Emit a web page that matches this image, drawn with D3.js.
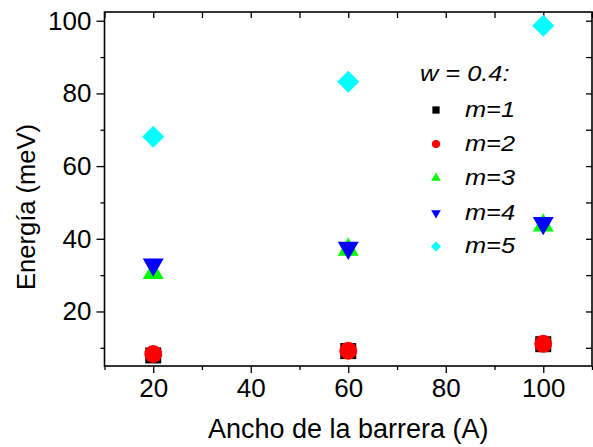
<!DOCTYPE html>
<html><head><meta charset="utf-8">
<script src="https://cdn.jsdelivr.net/npm/d3@7"></script>
<style>body{margin:0;background:#fff}svg{display:block}text{font-family:"Liberation Sans",Arial,sans-serif;fill:#000}</style>
</head><body>
<svg id="c" width="593" height="447"></svg>
<script>
const widths = [20, 60, 100];
const m1 = [7.9, 9.1, 11.0];
const m2 = [8.3, 9.2, 11.1];
const m3 = [30.6, 37.0, 43.7];
const m4 = [32.9, 37.5, 44.3];
const m5 = [68.1, 83.2, 98.6];
const seriesNames = ["m=1", "m=2", "m=3", "m=4", "m=5"];
const xTicks = [20, 40, 60, 80, 100];
const yTicks = [20, 40, 60, 80, 100];
const legendTitle = "w = 0.4:";
const xTitle = "Ancho de la barrera (A)";
const yTitle = "Energía (meV)";

const svg = d3.select("#c");
const L = 104.5, R = 592, T = 12, B = 366;
const x = d3.scaleLinear().domain([10, 110]).range([L, R]);
const y = d3.scaleLinear().domain([5, 102.4]).range([B, T]);

const styles = [
  {sym: d3.symbolSquare, color: "#000000", size: 256, rot: 0, lsize: 52},
  {sym: d3.symbolCircle, color: "#ff0000", size: 254, rot: 0, lsize: 52},
  {sym: d3.symbolTriangle, color: "#00ff00", size: 190, rot: 0, lsize: 40},
  {sym: d3.symbolTriangle, color: "#0000ff", size: 190, rot: 180, lsize: 40},
  {sym: d3.symbolSquare, color: "#00ffff", size: 243, rot: 45, lsize: 50}
];
const data = [m1, m2, m3, m4, m5];

// axes
const minorX = d3.range(10, 111, 10);
const minorY = d3.range(10, 101, 10);
const axisB = d3.axisBottom(x).tickValues(xTicks).tickSize(7).tickPadding(6);
const gB = svg.append("g").attr("transform", `translate(0,${B})`).call(axisB);
const axisL = d3.axisLeft(y).tickValues(yTicks).tickSize(8).tickPadding(5);
const gL = svg.append("g").attr("transform", `translate(${L},0)`).call(axisL);
[gB, gL].forEach(g => {
  g.select(".domain").remove();
  g.selectAll(".tick line").attr("stroke", "#000").attr("stroke-width", 1.3);
  g.selectAll(".tick text").style("font-size", "26px").attr("fill", "#000");
});
// minor ticks
svg.append("g").attr("transform", `translate(0,${B})`)
  .call(d3.axisBottom(x).tickValues(minorX.filter(v => !xTicks.includes(v))).tickSize(4).tickFormat(""))
  .call(g => g.select(".domain").remove())
  .selectAll("line").attr("stroke-width", 1.3);
svg.append("g").attr("transform", `translate(${L},0)`)
  .call(d3.axisLeft(y).tickValues(minorY.filter(v => !yTicks.includes(v))).tickSize(4).tickFormat(""))
  .call(g => g.select(".domain").remove())
  .selectAll("line").attr("stroke-width", 1.3);
// top & right inward ticks
svg.append("g").attr("transform", `translate(0,${T})`)
  .call(d3.axisBottom(x).tickValues(minorX).tickSize(6).tickFormat(""))
  .call(g => g.select(".domain").remove())
  .selectAll("line").attr("stroke-width", 1.3);
svg.append("g").attr("transform", `translate(${R},0)`)
  .call(d3.axisLeft(y).tickValues(minorY).tickSize(6).tickFormat(""))
  .call(g => g.select(".domain").remove())
  .selectAll("line").attr("stroke-width", 1.3);

// frame
svg.append("rect").attr("x", L).attr("y", T).attr("width", R - L).attr("height", B - T)
  .attr("fill", "none").attr("stroke", "#000").attr("stroke-width", 1.6);

// points
const plot = svg.append("g");
data.forEach((vals, i) => {
  const st = styles[i];
  plot.selectAll(null).data(vals).enter().append("path")
    .attr("d", d3.symbol().type(st.sym).size(st.size))
    .attr("transform", (d, j) => `translate(${x(widths[j])},${y(d)}) rotate(${st.rot})`)
    .attr("fill", st.color);
});

// legend
svg.append("text").attr("x", 420).attr("y", 81.5)
  .attr("transform", "translate(420,0) scale(1.18,1) translate(-420,0)")
  .style("font-size", "21.5px").style("font-style", "italic").text(legendTitle);
const ly = [110, 144, 178, 213, 246.5];
seriesNames.forEach((name, i) => {
  const st = styles[i];
  svg.append("path").attr("d", d3.symbol().type(st.sym).size(st.lsize))
    .attr("transform", `translate(436,${ly[i]}) rotate(${st.rot})`).attr("fill", st.color);
  svg.append("text").attr("x", 465).attr("y", ly[i] + 7)
    .attr("transform", "translate(465,0) scale(1.18,1) translate(-465,0)")
    .style("font-size", "21.5px").style("font-style", "italic").text(name);
});

// titles
svg.append("text").attr("x", (L + R) / 2).attr("y", 438).attr("text-anchor", "middle")
  .style("font-size", "27px").text(xTitle);
svg.append("text").attr("transform", `translate(35,207) rotate(-90)`).attr("text-anchor", "middle")
  .style("font-size", "25.5px").text(yTitle);
</script>
</body></html>
